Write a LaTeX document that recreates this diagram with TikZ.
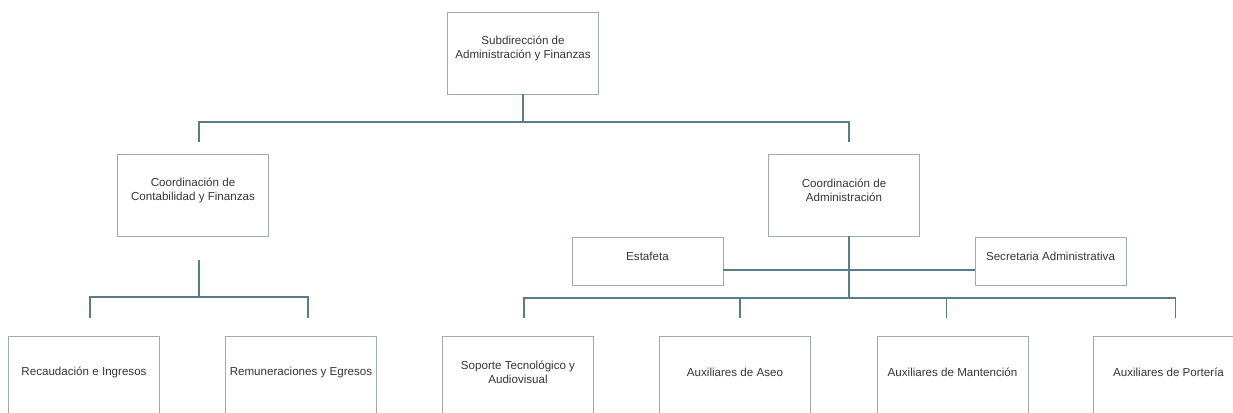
\documentclass[tikz,border=0pt]{standalone}
\usepackage{fontspec}
\setmainfont{Liberation Sans}
\usepackage{xcolor}
\usepackage{tikz}
\usetikzlibrary{calc}
\definecolor{linkcol}{RGB}{88,124,138}
\definecolor{boxcol}{RGB}{158,172,178}
\definecolor{textcol}{RGB}{55,55,55}
\tikzset{
	>=latex,
	unit/.style = {
			draw            = boxcol,
			line width      = 0.9pt,
			fill            = white,
			minimum width   = 151pt,
			minimum height  = 82pt,
			inner sep = 0pt,
		},
	slim/.style = {
			unit,
			minimum height  = 48pt,
		},
	caption/.style = {
			label = {[align=center, text=textcol, font=\fontsize{11.6}{14}\selectfont, yshift=5pt]center:#1},
		},
	link/.style = {draw=linkcol, line width=1.3pt},
}

\begin{document}
\begin{tikzpicture}[x=1pt, y=-1pt]
	\useasboundingbox (0,0) rectangle (1233,412);
	\fill[white] (0,0) rectangle (1233,412);
	\clip (0,0) rectangle (1233,412);

	\node[unit, caption={Subdirección de\\Administración y Finanzas}] (subdir) at (523,53) {};
	\node[unit, caption={Coordinación de\\Contabilidad y Finanzas}] (contab) at (193,195.5) {};
	\node[unit, caption={Coordinación de\\Administración}] (admin) at (844,195) {};
	\node[slim, caption={Estafeta}] (estafeta) at (647.5,261) {};
	\node[slim, caption={Secretaria Administrativa}] (secret) at (1050.5,261.5) {};
	\node[unit, caption={Recaudación e Ingresos}] (recaud) at (84,377) {};
	\node[unit, caption={Remuneraciones y Egresos}] (remun) at (301,377) {};
	\node[unit, caption={Soporte Tecnológico y\\Audiovisual}] (soporte) at (518,377) {};
	\node[unit, caption={Auxiliares de Aseo}] (aseo) at (735,377) {};
	\node[unit, caption={Auxiliares de Mantención}] (mant) at (952.5,377) {};
	\node[unit, caption={Auxiliares de Portería}] (porteria) at (1168.5,377) {};

	\coordinate (hubA) at (523,122);
	\coordinate (hubB) at (199,297);
	\coordinate (hubC) at (849,298);

	\draw[link] (subdir) -- (hubA);
	\draw[link] ($(contab.north)+(6,-12)$) |- (hubA) -| ($(admin.north)+(5,-12)$);

	\draw[link] ($(contab.south)+(6,23)$) -- (hubB);
	\draw[link] ($(recaud.north)+(6,-18)$) |- (hubB) -| ($(remun.north)+(7,-18)$);

	\draw[link] ($(admin.south)+(5,0)$) -- (hubC);
	\draw[link] ($(estafeta.east)+(0,9)$) -- ($(secret.west)+(0,8.5)$);
	\draw[link] ($(soporte.north)+(6,-18)$) |- (hubC) -| ($(porteria.north)+(7,-18)$);
	\draw[link] ($(aseo.north)+(5,-18)$) -- ++(0,-20);
	\draw[link] ($(mant.north)+(-6,-18)$) -- ++(0,-20);
\end{tikzpicture}
\end{document}
